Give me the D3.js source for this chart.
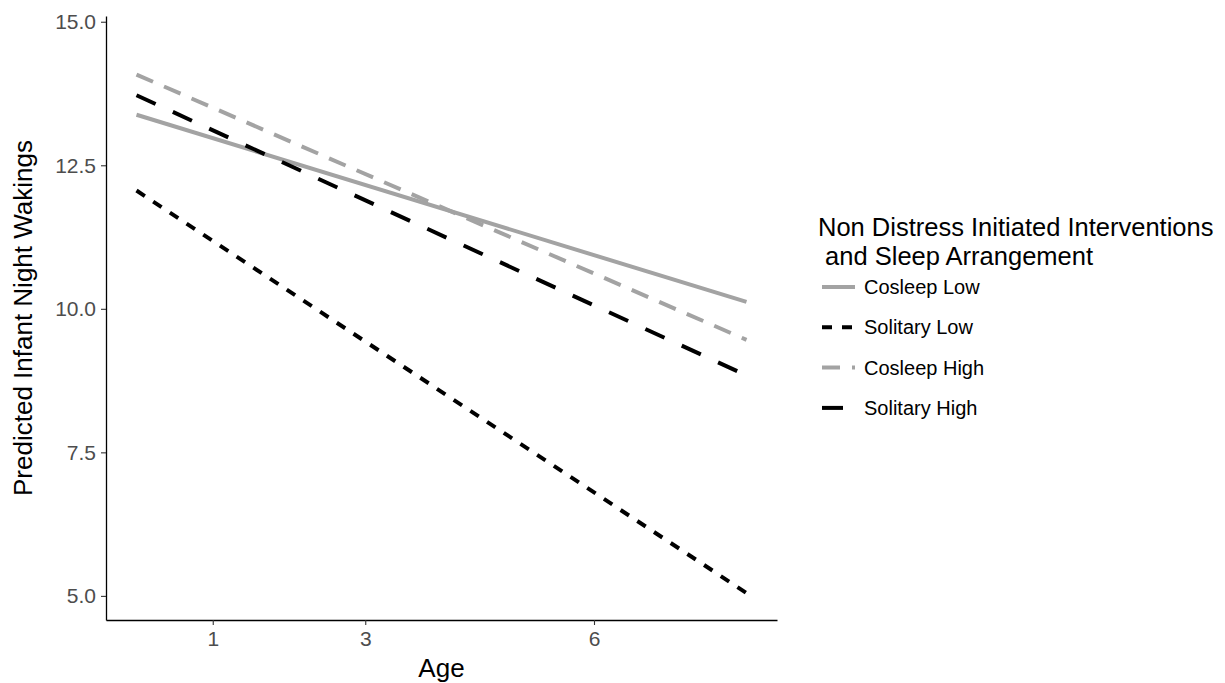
<!DOCTYPE html>
<html>
<head>
<meta charset="utf-8">
<script src="https://cdn.jsdelivr.net/npm/d3@7"></script>
<style>
	body { margin: 0; background: #fff; }
	text { font-family: "Liberation Sans", Arial, sans-serif; }
</style>
</head>
<body>
<div class="canvas"></div>
<script>
// data
const ages = [0, 8];
const groups = ['Cosleep Low', 'Solitary Low', 'Cosleep High', 'Solitary High'];
const cosleepLow = [13.38, 10.12];
const solitaryLow = [12.06, 5.05];
const cosleepHigh = [14.08, 9.46];
const solitaryHigh = [13.72, 8.84];
const xTicks = [1, 3, 6];
const yTicks = [5, 7.5, 10, 12.5, 15];

const dims = {width: 1225, height: 683};

const svg = d3.select('.canvas')
	.append('svg')
	.attr('width', dims.width)
	.attr('height', dims.height);

const x = d3.scaleLinear().domain([-0.4, 8.4]).range([106, 777]);
const y = d3.scaleLinear().domain([4.58, 15.1]).range([620, 16]);

const grey = '#a3a3a3';
const styles = {
	'Cosleep Low': {colour: grey, dash: null},
	'Solitary Low': {colour: '#000', dash: '10,10'},
	'Cosleep High': {colour: grey, dash: '18,12'},
	'Solitary High': {colour: '#000', dash: '21,19'}
};

const seriesData = [cosleepLow, solitaryLow, cosleepHigh, solitaryHigh]
	.map((vals, i) => ({name: groups[i], points: vals.map((v, j) => [ages[j], v])}));

const line = d3.line()
	.x(d => x(d[0]))
	.y(d => y(d[1]));

// lines
svg.selectAll('.series')
	.data(seriesData)
	.enter()
	.append('path')
		.attr('class', 'series')
		.attr('fill', 'none')
		.attr('stroke', d => styles[d.name].colour)
		.attr('stroke-width', 4)
		.attr('stroke-dasharray', d => styles[d.name].dash)
		.attr('d', d => line(d.points));

// axes
const xAxis = svg.append('g')
	.attr('transform', `translate(0, ${y.range()[0]})`)
	.call(d3.axisBottom(x).tickValues(xTicks).tickSize(5).tickPadding(6).tickSizeOuter(0));

const yAxis = svg.append('g')
	.attr('transform', `translate(${x.range()[0]}, 0)`)
	.call(d3.axisLeft(y).tickValues(yTicks).tickFormat(d3.format('.1f')).tickSize(5).tickPadding(5).tickSizeOuter(0));

[xAxis, yAxis].forEach(a => {
	a.select('.domain').attr('stroke', '#000').attr('stroke-width', 1.3);
	a.selectAll('.tick line').attr('stroke', '#333').attr('stroke-width', 1.1);
	a.selectAll('.tick text')
		.attr('fill', '#4d4d4d')
		.style('font-size', '21px')
		.style('font-family', '"Liberation Sans", Arial, sans-serif');
});

// axis titles
svg.append('text')
	.attr('x', (x.range()[0] + x.range()[1]) / 2)
	.attr('y', 677)
	.attr('text-anchor', 'middle')
	.style('font-size', '26px')
	.text('Age');

svg.append('text')
	.attr('transform', `translate(32, ${(y.range()[0] + y.range()[1]) / 2}) rotate(-90)`)
	.attr('text-anchor', 'middle')
	.style('font-size', '26px')
	.text('Predicted Infant Night Wakings');

// legend
const legend = svg.append('g')
	.attr('transform', 'translate(818, 0)');

legend.append('text')
	.attr('x', 0)
	.attr('y', 236)
	.style('font-size', '25.5px')
	.text('Non Distress Initiated Interventions');

legend.append('text')
	.attr('x', 0)
	.attr('y', 265)
	.style('font-size', '25.5px')
	.attr('xml:space', 'preserve')
	.text(' and Sleep Arrangement');

const items = legend.selectAll('.item')
	.data(groups)
	.enter()
	.append('g')
		.attr('class', 'item')
		.attr('transform', (d, i) => `translate(0, ${287 + i * 40.3})`);

items.append('line')
	.attr('x1', 4)
	.attr('x2', 37)
	.attr('stroke', d => styles[d].colour)
	.attr('stroke-width', 4)
	.attr('stroke-dasharray', d => styles[d].dash);

items.append('text')
	.attr('x', 46)
	.attr('dy', '0.35em')
	.style('font-size', '20px')
	.text(d => d);
</script>
</body>
</html>
